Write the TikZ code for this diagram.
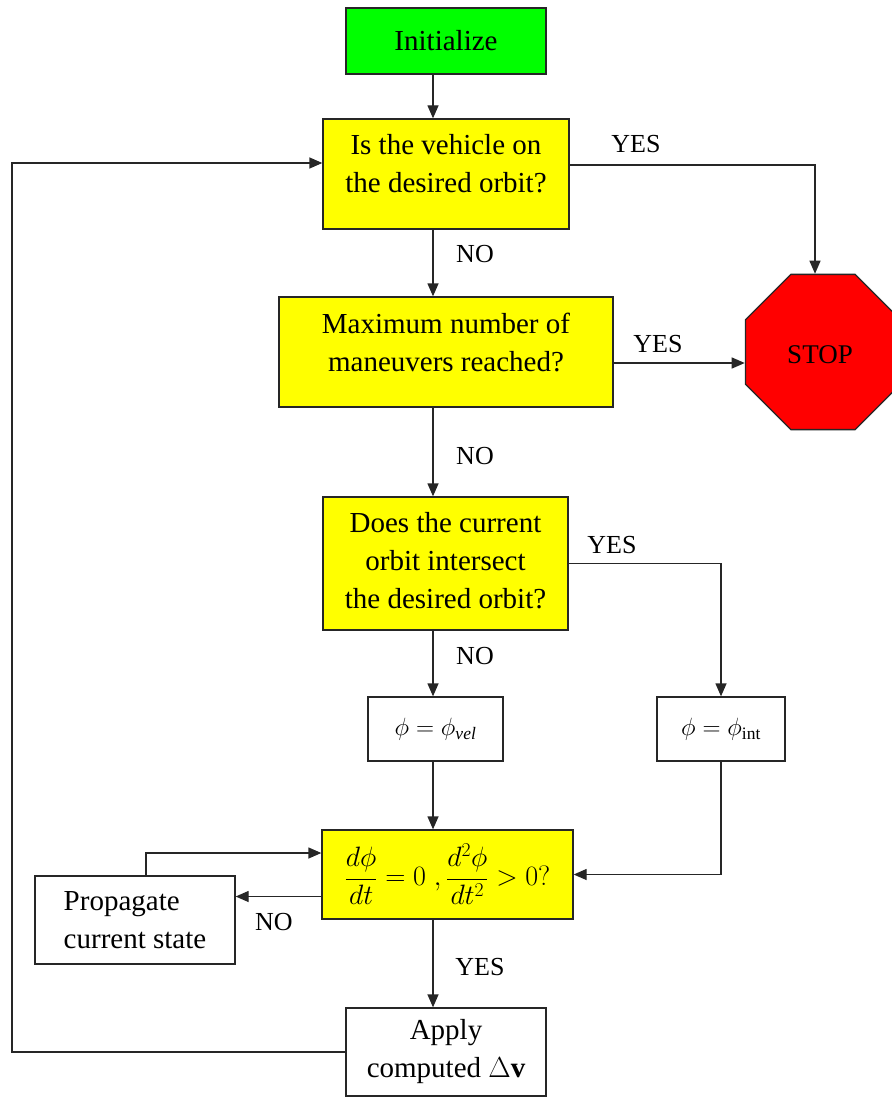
\RequirePackage{fix-cm}
\documentclass[tikz,border=0pt]{standalone}
\usepackage{fontspec}
\setmainfont{Liberation Serif}
\usetikzlibrary{arrows.meta,shapes.geometric}
\definecolor{bgreen}{RGB}{0,255,0}
\definecolor{byellow}{RGB}{255,255,0}
\definecolor{bred}{RGB}{255,0,0}
\tikzset{
  box/.style={draw=black!85, line width=1.3pt, align=center, inner sep=2pt,
    font=\fontsize{29}{38}\selectfont},
  boxtext/.style={align=center, font=\fontsize{29}{38}\selectfont},
  arr/.style={-{Triangle[length=13pt,width=11pt]}, line width=1.3pt, draw=black!85},
  lbl/.style={font=\fontsize{26}{30}\selectfont, inner sep=0pt}
}
\begin{document}
\begin{tikzpicture}[x=1pt,y=-1pt]
\useasboundingbox (0,0) rectangle (891,1097);
\node[box, fill=bgreen, minimum width=200pt, minimum height=66pt] (init) at (446,41) {Initialize};
\node[box, fill=byellow, minimum width=246pt, minimum height=110pt,
  label={[boxtext, yshift=10pt]center:{Is the vehicle on\\the desired orbit?}}] (q1) at (446,174) {};
\node[box, fill=byellow, minimum width=334pt, minimum height=110pt,
  label={[boxtext, yshift=10pt]center:{Maximum number of\\maneuvers reached?}}] (q2) at (446,352) {};
\node[box, fill=byellow, minimum width=245pt, minimum height=133pt,
  label={[boxtext, yshift=3pt]center:{Does the current\\orbit intersect\\the desired orbit?}}] (q3) at (445.5,563.5) {};
\node[box, fill=white, minimum width=135pt, minimum height=64pt, font=\fontsize{25}{30}\selectfont] (pvel) at (435.5,729) {$\phi=\phi_{\mathit{vel}}$};
\node[box, fill=white, minimum width=128pt, minimum height=64pt, font=\fontsize{25}{30}\selectfont] (pint) at (721,729) {$\phi=\phi_{\mathrm{int}}$};
\node[box, fill=byellow, minimum width=251pt, minimum height=89pt, font=\fontsize{28}{38}\selectfont] (deriv) at (447.5,874.5) {$\displaystyle\frac{d\phi}{dt}=0\;,\frac{d^{2}\phi}{dt^{2}}>0?$};
\node[box, fill=white, minimum width=200pt, minimum height=88pt, align=left] (prop) at (135,920) {Propagate\\current state};
\node[box, fill=white, minimum width=200pt, minimum height=88pt] (apply) at (446,1052) {Apply\\computed $\Delta\mathbf{v}$};
\node[box, fill=bred, regular polygon, regular polygon sides=8, minimum size=168pt] (stop) at (823,352) {};
\node[font=\fontsize{27}{30}\selectfont] (stoptxt) at (820,355) {STOP};

\coordinate (sp) at (433,0);
\coordinate (r1) at (815,165);
\coordinate (pp) at (146,853);
\coordinate (lf) at (12,163);

\draw[arr] (init.south -| sp) -- (q1.north -| sp);
\draw[arr] (q1.south -| sp) -- (q2.north -| sp);
\draw[arr] (q2.south -| sp) -- (q3.north -| sp);
\draw[arr] (q3.south -| sp) -- (pvel.north -| sp);
\draw[arr] (pvel.south -| sp) -- (deriv.north -| sp);
\draw[arr] (deriv.south -| sp) -- (apply.north -| sp);
\draw[arr] (q1.east |- r1) -- (r1) -- (stop.north -| r1);
\draw[arr] ([yshift=-11pt]q2.east) -- ([yshift=-11pt]stop.west);
\draw[arr] (q3.east) -- (q3.east -| pint.north) -- (pint.north);
\draw[arr] (pint.south) -- (pint.south |- deriv.east) -- (deriv.east);
\draw[arr] ([yshift=-22pt]deriv.west) -- ([yshift=-22pt]deriv.west -| prop.east);
\draw[arr] (prop.north -| pp) -- (pp) -- (deriv.west |- pp);
\draw[arr] (apply.west) -- (apply.west -| lf) -- (lf) -- (q1.west |- lf);

\node[lbl] (l1) at (636,144) {YES};
\node[lbl] (l2) at (658,344) {YES};
\node[lbl] (l3) at (475,254) {NO};
\node[lbl] (l4) at (475,456) {NO};
\node[lbl] (l5) at (612,545) {YES};
\node[lbl] (l6) at (475,656) {NO};
\node[lbl] (l7) at (274,922) {NO};
\node[lbl] (l8) at (480,967) {YES};
\end{tikzpicture}
\end{document}
